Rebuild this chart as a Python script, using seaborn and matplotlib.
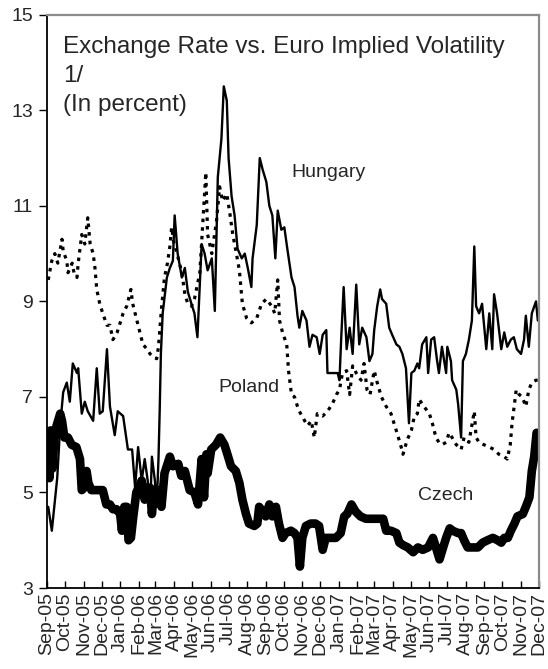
import pandas as pd
import numpy as np
import matplotlib
matplotlib.use('Agg')
import matplotlib.pyplot as plt
import matplotlib.dates as mdates
import seaborn as sns

START = pd.Timestamp('2005-09-01')
END = pd.Timestamp('2007-12-01')

# days since 1 Sep 2005 and implied volatility (percent)
hu_days = [2, 8, 17, 22, 27, 33, 38, 43, 50, 52, 58, 63, 68, 77, 83, 88, 93, 100, 105, 113,
           118, 127, 135, 142, 147, 152, 158, 163, 168, 172, 175, 180, 183, 186, 188, 190, 193, 200, 205, 210,
           213, 218, 225, 230, 235, 241, 246, 251, 258, 263, 268, 275, 280, 285, 291, 295, 300, 303, 308, 313,
           318, 325, 330, 335, 341, 343, 350, 355, 360, 366, 371, 376, 381, 385, 391, 396, 401, 408, 413, 418,
           421, 426, 433, 438, 443, 450, 455, 460, 466, 468, 476, 485, 488, 491, 495, 500, 505, 510, 516, 521,
           526, 533, 538, 543, 546, 551, 556, 559, 566, 571, 576, 583, 588, 593, 599, 604, 608, 613, 618, 621,
           626, 633, 636, 641, 646, 651, 654, 659, 666, 668, 674, 676, 683, 686, 691, 694, 699, 704, 709, 713,
           716, 721, 726, 733, 738, 743, 746, 751, 758, 763, 768, 774, 779, 784, 791, 796, 799, 804, 809, 816,
           819]
hu_vals = [4.7, 4.2, 5.3, 6.4, 7.1, 7.3, 6.9, 7.7, 7.5, 7.6, 6.65, 6.9, 6.7, 6.5, 7.6, 6.65, 6.7, 8.0, 6.8, 6.2,
           6.7, 6.6, 5.9, 5.9, 5.1, 5.95, 5.25, 5.7, 5.25, 4.6, 5.75, 5.25, 4.7, 5.7, 6.7, 7.9, 8.75, 9.5, 9.7, 9.85,
           10.8, 10.0, 9.5, 9.7, 9.2, 8.95, 8.75, 8.25, 10.2, 10.0, 9.65, 9.9, 8.8, 11.6, 12.4, 13.5, 13.2, 12.0, 11.2, 10.8,
           10.1, 9.9, 10.0, 9.7, 9.3, 9.9, 10.6, 12.0, 11.75, 11.5, 11.0, 10.8, 9.9, 10.9, 10.5, 10.55, 10.1, 9.5, 9.3, 8.7,
           8.45, 8.8, 8.6, 8.05, 8.3, 8.25, 7.9, 8.3, 8.4, 7.5, 7.5, 7.5, 7.35, 8.25, 9.3, 8.0, 8.45, 7.9, 9.35, 8.1,
           8.45, 8.25, 7.75, 7.9, 8.4, 8.9, 9.25, 9.05, 8.95, 8.45, 8.3, 8.1, 8.05, 7.9, 7.6, 6.45, 7.5, 7.55, 7.7, 7.6,
           8.1, 8.25, 7.5, 8.2, 8.25, 7.75, 7.5, 8.05, 7.5, 8.05, 7.75, 7.35, 7.15, 6.85, 6.15, 7.75, 7.9, 8.2, 8.6, 10.15,
           8.9, 8.75, 8.95, 8.0, 8.75, 8.0, 9.15, 8.75, 8.0, 8.35, 8.05, 8.2, 8.25, 8.0, 7.9, 8.2, 8.7, 8.05, 8.75, 9.0,
           8.6]

pl_days = [2, 8, 13, 18, 25, 27, 33, 35, 42, 45, 50, 52, 58, 63, 68, 72, 77, 80, 83, 88,
           93, 100, 105, 110, 117, 122, 127, 133, 140, 143, 150, 155, 160, 167, 172, 176, 183, 186, 191, 196,
           201, 205, 208, 212, 216, 225, 230, 235, 241, 246, 255, 260, 265, 268, 275, 283, 288, 293, 300, 305,
           310, 316, 321, 326, 333, 341, 350, 358, 366, 375, 380, 385, 388, 393, 400, 403, 408, 413, 418, 421,
           430, 435, 441, 446, 451, 460, 468, 476, 483, 488, 493, 500, 505, 510, 516, 524, 529, 534, 539, 546,
           551, 558, 566, 574, 579, 584, 591, 594, 601, 608, 613, 618, 621, 629, 638, 643, 649, 654, 659, 666,
           671, 676, 683, 691, 696, 704, 713, 716, 721, 729, 738, 746, 754, 763, 768, 773, 776, 783, 788, 793,
           799, 804, 809, 816, 819]
pl_vals = [9.45, 9.85, 10.0, 9.8, 10.3, 10.05, 9.85, 9.6, 9.8, 9.6, 9.5, 9.8, 10.4, 10.2, 10.75, 10.2, 10.0, 9.7, 9.25, 8.95,
           8.75, 8.5, 8.5, 8.2, 8.35, 8.55, 8.75, 8.9, 9.25, 8.95, 8.6, 8.35, 8.1, 8.0, 7.9, 7.85, 7.8, 8.05, 8.85, 9.5,
           9.8, 10.15, 10.55, 10.2, 10.05, 9.6, 9.15, 8.95, 8.9, 9.05, 9.6, 10.65, 11.7, 10.4, 10.0, 10.7, 11.4, 11.1, 11.25, 10.85,
           10.4, 10.0, 9.65, 8.95, 8.65, 8.55, 8.65, 8.95, 9.05, 8.9, 8.75, 9.45, 8.6, 8.35, 8.1, 7.55, 7.05, 7.0, 6.8, 6.7,
           6.5, 6.4, 6.5, 6.15, 6.65, 6.6, 6.7, 6.85, 7.05, 7.15, 7.5, 7.55, 7.05, 7.65, 7.5, 7.35, 7.7, 7.15, 7.05, 7.55,
           7.3, 7.0, 6.8, 6.65, 6.45, 6.25, 5.95, 5.8, 6.1, 6.3, 6.6, 6.65, 6.95, 6.8, 6.65, 6.45, 6.15, 6.05, 6.0, 6.05,
           6.25, 6.15, 6.0, 5.9, 6.15, 6.05, 6.7, 6.15, 6.05, 6.0, 5.95, 5.9, 5.8, 5.75, 5.7, 6.0, 6.45, 7.15, 7.05, 7.0,
           6.8, 7.15, 7.3, 7.35, 7.35]

cz_days = [0, 2, 4, 6, 9, 12, 16, 22, 25, 29, 35, 41, 49, 55, 58, 62, 66, 69, 74, 83,
           88, 93, 99, 105, 110, 116, 122, 125, 129, 133, 136, 140, 144, 149, 158, 163, 168, 172, 175, 179,
           185, 191, 196, 205, 210, 219, 224, 230, 238, 246, 252, 258, 262, 266, 268, 274, 282, 289, 296, 301,
           307, 315, 321, 326, 332, 337, 346, 351, 354, 360, 365, 371, 376, 382, 387, 393, 398, 407, 413, 418,
           422, 426, 432, 440, 448, 454, 460, 465, 473, 482, 490, 496, 501, 508, 515, 523, 532, 540, 552, 561,
           566, 574, 583, 588, 594, 602, 611, 619, 627, 636, 644, 649, 655, 661, 666, 672, 677, 686, 691, 696,
           702, 710, 719, 727, 735, 744, 752, 758, 763, 769, 774, 780, 785, 794, 799, 805, 809, 813, 817, 819]
cz_vals = [5.4, 6.2, 5.3, 6.3, 5.5, 6.1, 6.4, 6.65, 6.5, 6.15, 6.15, 6.0, 5.95, 5.7, 5.05, 5.1, 5.45, 5.2, 5.05, 5.05,
           5.05, 5.05, 4.75, 4.75, 4.65, 4.65, 4.55, 4.2, 4.7, 4.7, 4.0, 4.05, 4.5, 5.0, 5.25, 4.85, 5.1, 5.1, 4.55, 5.05,
           5.05, 4.7, 5.4, 5.75, 5.55, 5.6, 5.35, 5.45, 5.05, 5.0, 4.75, 5.7, 4.9, 5.8, 5.4, 5.9, 6.0, 6.15, 6.0, 5.8,
           5.55, 5.45, 5.2, 4.85, 4.55, 4.35, 4.3, 4.35, 4.7, 4.6, 4.5, 4.75, 4.5, 4.7, 4.35, 4.05, 4.15, 4.2, 4.15, 4.05,
           3.45, 4.05, 4.3, 4.35, 4.35, 4.3, 3.8, 4.05, 4.05, 4.05, 4.15, 4.5, 4.55, 4.75, 4.6, 4.5, 4.45, 4.45, 4.45, 4.45,
           4.2, 4.2, 4.15, 3.95, 3.9, 3.85, 3.75, 3.85, 3.8, 3.85, 4.05, 3.85, 3.6, 3.85, 4.05, 4.25, 4.2, 4.15, 4.15, 4.0,
           3.85, 3.85, 3.85, 3.95, 4.0, 4.05, 4.0, 3.95, 4.05, 4.05, 4.2, 4.35, 4.5, 4.55, 4.7, 4.9, 5.45, 5.75, 6.25, 6.2]

assert len(hu_days) == len(hu_vals)
assert len(pl_days) == len(pl_vals)
assert len(cz_days) == len(cz_vals)

title_text = 'Exchange Rate vs. Euro Implied Volatility\n1/\n(In percent)'
y_ticks = [3, 5, 7, 9, 11, 13, 15]


def to_frame(days, vals):
    return pd.DataFrame({'date': START + pd.to_timedelta(days, unit='D'), 'vol': vals})


sns.set_style('white')
plt.rcParams['font.family'] = ['Liberation Sans', 'DejaVu Sans']

fig = plt.figure(figsize=(5.48, 6.69), dpi=100)
ax = fig.add_axes([0.0858, 0.121, 0.8978, 0.857])

sns.lineplot(data=to_frame(pl_days, pl_vals), x='date', y='vol', ax=ax, color='black',
             linewidth=2.3, linestyle=(0, (1.1, 1.6)))
sns.lineplot(data=to_frame(hu_days, hu_vals), x='date', y='vol', ax=ax, color='black',
             linewidth=1.7)
sns.lineplot(data=to_frame(cz_days, cz_vals), x='date', y='vol', ax=ax, color='black',
             linewidth=6.2, solid_joinstyle='round', solid_capstyle='round')

ax.set_xlim(START, END)
ax.set_ylim(3, 15)
ax.set_yticks(y_ticks)
ax.set_xlabel('')
ax.set_ylabel('')

ax.xaxis.set_major_locator(mdates.MonthLocator())
ax.xaxis.set_major_formatter(mdates.DateFormatter('%b-%y'))
ax.tick_params(axis='x', direction='in', length=5, width=1, color='black',
               labelsize=14, labelrotation=90, pad=3, bottom=True)
ax.tick_params(axis='y', direction='out', length=6, width=1, color='black',
               labelsize=14, pad=4, left=True)

for side in ['left', 'bottom']:
    ax.spines[side].set_color('black')
    ax.spines[side].set_linewidth(1.3)
for side in ['top', 'right']:
    ax.spines[side].set_color('#8c8c8c')
    ax.spines[side].set_linewidth(1.6)

ax.text(0.033, 0.963, title_text, transform=ax.transAxes, fontsize=17.5,
        ha='left', va='top', linespacing=1.42)
ax.text(0.573, 0.725, 'Hungary', transform=ax.transAxes, fontsize=14, ha='center', va='center')
ax.text(0.41, 0.349, 'Poland', transform=ax.transAxes, fontsize=14, ha='center', va='center')
ax.text(0.811, 0.162, 'Czech', transform=ax.transAxes, fontsize=14, ha='center', va='center')

fig.savefig('out.png', dpi=100)
